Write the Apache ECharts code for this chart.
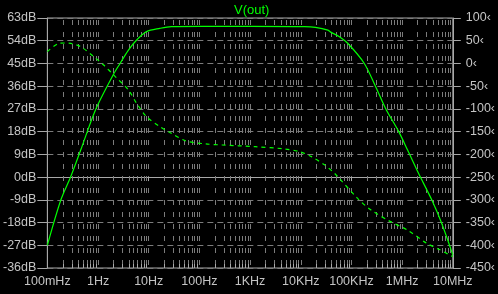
<!DOCTYPE html>
<html><head><meta charset="utf-8">
<script src="https://cdn.jsdelivr.net/npm/echarts@6/dist/echarts.min.js"></script>
<style>html,body{margin:0;padding:0;background:#000}#c{width:498px;height:294px}</style>
</head><body><div id="c"></div><script>
// ---- data ----
const freqLabels = ['100mHz','1Hz','10Hz','100Hz','1KHz','10KHz','100KHz','1MHz','10MHz'];
const magFreq = [0.1, 0.185, 0.29, 0.455, 0.89, 2.03, 2.74, 3.98, 5.78, 9.06, 16.6, 27.9, 100, 1000, 11750, 19500, 34300, 39800, 57800, 84300, 178000, 300600, 471000, 857000, 1282000, 2104000, 3837000, 6026000, 10000000];
const magDb   = [-27, -9, 0.2, 10.7, 26.6, 40.8, 45.1, 50.3, 54.3, 57.6, 58.9, 59.6, 59.7, 59.7, 59.6, 59.3, 58.2, 57.3, 55.6, 53.0, 45.1, 35.8, 27.2, 18.0, 10.7, 1.5, -9, -18.3, -30.8];
const phaseFreq = [0.1, 0.171, 0.23, 0.29, 0.455, 0.826, 1.29, 2.19, 3.98, 5.78, 9.06, 16.6, 27.9, 54.7, 134, 284, 1259, 4887, 9550, 16200, 29400, 45700, 53700, 132000, 240000, 589000, 1250000, 3069000, 5572000, 10000000];
const phaseDeg  = [25.9, 44.3, 45, 44.3, 36.9, 14.9, -3.4, -29, -58.4, -87.7, -117, -139, -153.7, -170.6, -177, -179.4, -183, -188.2, -194, -205, -223, -241, -249, -296.7, -322, -348, -366, -395.7, -410, -425];
const dbMin = -36, dbMax = 63, dbStep = 9;
const degMin = -450, degMax = 100, degStep = 50;
const decadeStarts = [0.1, 1, 10, 100, 1e3, 1e4, 1e5, 1e6];
const minorMultipliers = [2, 3, 4, 5, 6, 7, 8, 9];

const minorLines = [];
decadeStarts.forEach(d => minorMultipliers.forEach(m => minorLines.push([d * m, 0])));

const textColor = '#c4c4c4';
const gridGray = '#7c7c7c';
const axisGray = '#a8a8a8';
const green = '#00ff00';
const font = 'Liberation Sans, Arial, sans-serif';

function crisp(v){ return Math.round(v) + 0.5; }

function renderMinor(params, api){
  const f = api.value(0);
  const top = api.coord([f, dbMax]);
  const bot = api.coord([f, dbMin]);
  const x = crisp(top[0]);
  return {type:'group', children:[
    {type:'line', shape:{x1:x, y1:Math.round(top[1]), x2:x, y2:Math.round(bot[1])},
      style:{stroke:gridGray, lineWidth:1, lineDash:[5,7], lineDashOffset:10}},
    {type:'line', shape:{x1:x, y1:Math.round(bot[1]), x2:x, y2:Math.round(bot[1]) - 4},
      style:{stroke:axisGray, lineWidth:1}}
  ]};
}

const chart = echarts.init(document.getElementById('c'), null, {renderer:'canvas'});
chart.setOption({
  backgroundColor:'#000',
  animation:false,
  title:{text:'V(out)', left:229, top:-1, textStyle:{color:green, fontSize:13, fontWeight:'normal', fontFamily:font}},
  grid:{left:43, right:45, top:18, bottom:26, show:true, borderColor:axisGray, borderWidth:1, backgroundColor:'transparent'},
  xAxis:{type:'log', logBase:10, min:0.1, max:1e7,
    axisLine:{show:true, lineStyle:{color:axisGray}},
    axisTick:{show:true, inside:false, length:4, lineStyle:{color:axisGray}},
    axisLabel:{color:textColor, fontSize:12.5, fontFamily:font, margin:7,
      formatter:v => freqLabels[Math.round(Math.log10(v)) + 1]},
    splitLine:{show:true, lineStyle:{color:gridGray, type:[5,7], dashOffset:10}},
    minorTick:{show:false}, minorSplitLine:{show:false}
  },
  yAxis:[
    {type:'value', min:dbMin, max:dbMax, interval:dbStep, position:'left',
      axisLine:{show:true, lineStyle:{color:axisGray}},
      axisTick:{show:true, length:10, lineStyle:{color:axisGray}},
      axisLabel:{color:textColor, fontSize:12.5, fontFamily:font, margin:11, formatter:'{value}dB'},
      splitLine:{show:true, lineStyle:{color:gridGray, type:[6,4]}}
    },
    {type:'value', min:degMin, max:degMax, interval:degStep, position:'right',
      axisLine:{show:true, lineStyle:{color:axisGray}},
      axisTick:{show:true, length:8, lineStyle:{color:axisGray}},
      axisLabel:{color:textColor, fontSize:12.5, fontFamily:font, margin:13, formatter:'{value}\u2039'},
      splitLine:{show:false}
    }
  ],
  series:[
    {type:'custom', yAxisIndex:0, data:minorLines, renderItem:renderMinor, silent:true, z:1, clip:false},
    {type:'line', name:'mag', yAxisIndex:0, data:magFreq.map((f,i)=>[f, magDb[i]]),
      showSymbol:false, smooth:0.3, lineStyle:{color:green, width:1.2}, z:5},
    {type:'line', name:'phase', yAxisIndex:1, data:phaseFreq.map((f,i)=>[f, phaseDeg[i]]),
      showSymbol:false, smooth:0.3, lineStyle:{color:green, width:1.2, type:[4,4]}, z:5}
  ]
});
</script></body></html>
